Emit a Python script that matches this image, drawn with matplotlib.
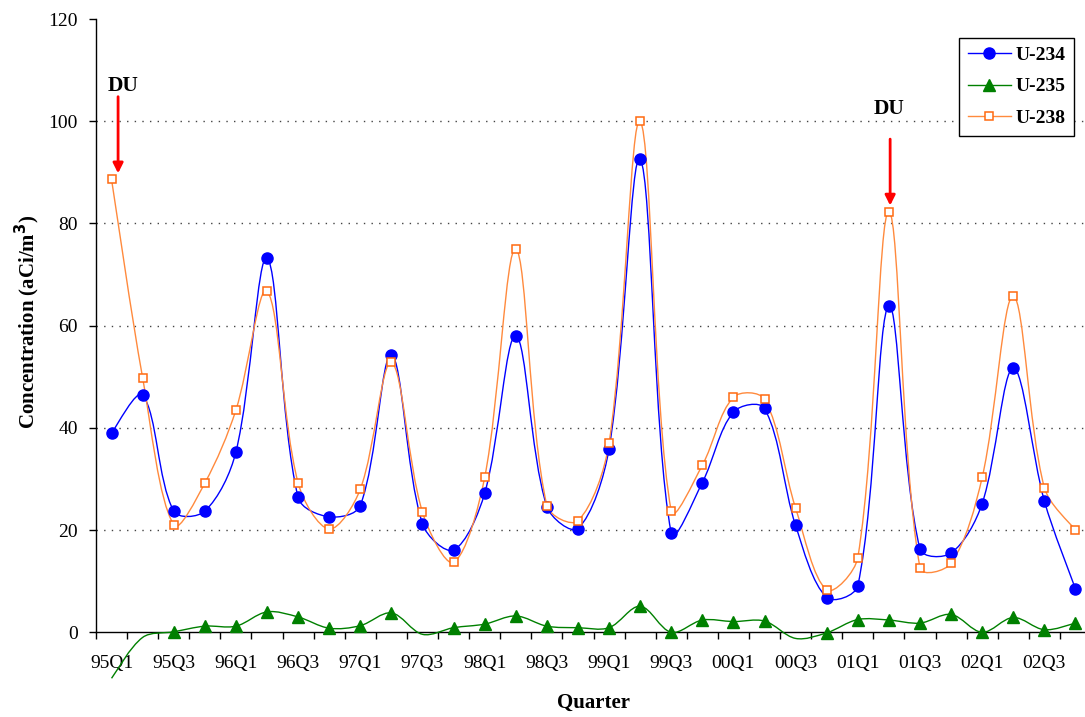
import numpy as np
import matplotlib
matplotlib.use("Agg")
import matplotlib.pyplot as plt
from matplotlib.path import Path
from matplotlib.patches import PathPatch
from matplotlib.lines import Line2D

plt.rcParams['font.family'] = ['Liberation Serif', 'DejaVu Serif']

quarters = [f"{y:02d}Q{q}" for y in [95, 96, 97, 98, 99, 0, 1, 2] for q in [1, 2, 3, 4]]

u234 = [39.0, 46.4, 23.7, 23.7, 35.3, 73.2, 26.4, 22.6, 24.8, 54.3, 21.2, 16.1,
        27.2, 58.0, 24.6, 20.3, 35.9, 92.6, 19.4, 29.3, 43.1, 43.8, 20.9, 6.8,
        9.1, 63.9, 16.3, 15.5, 25.2, 51.7, 25.7, 8.5]
u235 = [-9.0, -1.0, 0.1, 1.2, 1.2, 4.0, 3.0, 0.8, 1.3, 3.8, -0.4, 0.9,
        1.6, 3.2, 1.2, 0.9, 0.9, 5.1, 0.0, 2.4, 2.1, 2.2, -1.2, -0.1,
        2.5, 2.4, 1.8, 3.5, 0.0, 2.9, 0.5, 1.8]
u238 = [88.6, 49.8, 21.0, 29.2, 43.5, 66.8, 29.2, 20.2, 28.0, 52.8, 23.5, 13.7,
        30.3, 75.0, 24.8, 21.8, 37.0, 100.0, 23.7, 32.7, 46.0, 45.6, 24.3, 8.3,
        14.6, 82.3, 12.6, 13.5, 30.3, 65.8, 28.3, 20.0]
yticks = [0, 20, 40, 60, 80, 100, 120]
du_quarters = ["95Q1", "01Q2"]

W, H = 1085, 717
fig = plt.figure(figsize=(W / 100, H / 100), dpi=100)
ax = fig.add_axes([96 / W, (H - 632.3) / H, (1091 - 96) / W, (632.3 - 19) / H])

n = len(quarters)
x = np.arange(n)
ax.set_xlim(-0.5, n - 0.5)
ax.set_ylim(0, 120)


def smooth_path(xs, ys):
    """Excel-like smoothed line: cubic Bezier segments whose control points
    are weighted by neighbouring segment lengths (in display space)."""
    pts = np.column_stack([xs, ys]).astype(float)
    disp = ax.transData.transform(pts)
    m = len(pts)
    verts = [pts[0]]
    codes = [Path.MOVETO]

    def seglen(a, b):
        return np.hypot(*(disp[b] - disp[a]))

    for i in range(m - 1):
        i0 = max(i - 1, 0)
        i3 = min(i + 2, m - 1)
        p0, p1, p2, p3 = pts[i0], pts[i], pts[i + 1], pts[i3]
        d01 = seglen(i0, i)
        d12 = seglen(i, i + 1)
        d23 = seglen(i + 1, i3)
        w1 = d12 / (d01 + d12) if d01 + d12 > 0 else 0.5
        w2 = d12 / (d12 + d23) if d12 + d23 > 0 else 0.5
        if i == 0:
            w1 = 0.5
        if i + 2 > m - 1:
            w2 = 0.5
        c1 = p1 + (p2 - p0) * w1 / 3.0
        c2 = p2 - (p3 - p1) * w2 / 3.0
        verts += [c1, c2, p2]
        codes += [Path.CURVE4] * 3
    return Path(verts, codes)


series = [
    ("U-234", u234, '#0000FF', dict(marker='o', ms=8, mfc='#0000FF', mec='#0000FF')),
    ("U-235", u235, '#008000', dict(marker='^', ms=8.5, mfc='#008000', mec='#008000')),
    ("U-238", u238, '#FF8A3D', dict(marker='s', ms=6, mfc='white', mec='#FF6A10', mew=1.1)),
]

handles = []
for name, vals, col, mk in series:
    patch = PathPatch(smooth_path(x, vals), facecolor='none', edgecolor=col, lw=1.0,
                      clip_on=False, zorder=3)
    ax.add_patch(patch)
    v = np.array(vals, dtype=float)
    vis = v >= -0.3
    ax.plot(x[vis], v[vis], linestyle='none', zorder=4, clip_on=False, **mk)
    handles.append(Line2D([0], [0], color=col, lw=1.0, **mk))

# grid
for yv in yticks[1:-1]:
    ax.axhline(yv, color='#444444', lw=1.0, linestyle=(0, (1, 4.5)), zorder=1)

for s in ['top', 'right']:
    ax.spines[s].set_visible(False)
for s in ['left', 'bottom']:
    ax.spines[s].set_linewidth(1.0)
    ax.spines[s].set_color('black')

ax.set_yticks(yticks)
ax.set_yticklabels([str(t) for t in yticks], fontsize=14)
ax.tick_params(axis='y', direction='out', length=5, width=1, pad=8)

ax.set_xticks(x[::2])
ax.set_xticklabels(quarters[::2], fontsize=14)
ax.set_xticks(np.arange(n) - 0.5, minor=True)
ax.tick_params(axis='x', which='major', length=0, pad=16)
ax.tick_params(axis='x', which='minor', direction='out', length=5, width=1)

fig.text(27 / W, 1 - 322 / H, "Concentration (aCi/m$^{\\mathbf{3}}$)", rotation=90,
         ha='center', va='center', fontsize=15, fontweight='bold')
fig.text(594 / W, 1 - 703 / H, "Quarter", ha='center', va='center', fontsize=15,
         fontweight='bold')

leg = ax.legend(handles, [s[0] for s in series], loc='upper left',
                bbox_to_anchor=((959 - 96) / (1091 - 96), (632.3 - 37.5) / (632.3 - 19)),
                frameon=True, fancybox=False, edgecolor='black', framealpha=1,
                prop=dict(family='Liberation Serif', weight='bold', size=14),
                handlelength=2.2, handletextpad=0.25, borderpad=0.45, labelspacing=0.72,
                borderaxespad=0)
leg.get_frame().set_linewidth(1.0)
leg.set_zorder(6)

# DU annotations
du_pos = [quarters.index(q) for q in du_quarters]
du_vals = [u238[i] for i in du_pos]
arrow_dx = [0.21, 0.04]
text_dx = [0.37, 0.0]
du_text_y = [105.0, 100.5]
du_tail = [104.8, 96.5]
for xi, val, adx, tdx, ty, tail in zip(du_pos, du_vals, arrow_dx, text_dx, du_text_y, du_tail):
    ax.annotate("", xy=(xi + adx, val + 1.2), xytext=(xi + adx, tail),
                arrowprops=dict(arrowstyle='-|>,head_length=0.6,head_width=0.3',
                                color='#FF0000', lw=2.0, shrinkA=0, shrinkB=0), zorder=5)
    ax.text(xi + tdx, ty, "DU", ha='center', va='bottom', fontsize=15.5,
            fontweight='bold', zorder=5)

fig.savefig("out.png", dpi=100)
